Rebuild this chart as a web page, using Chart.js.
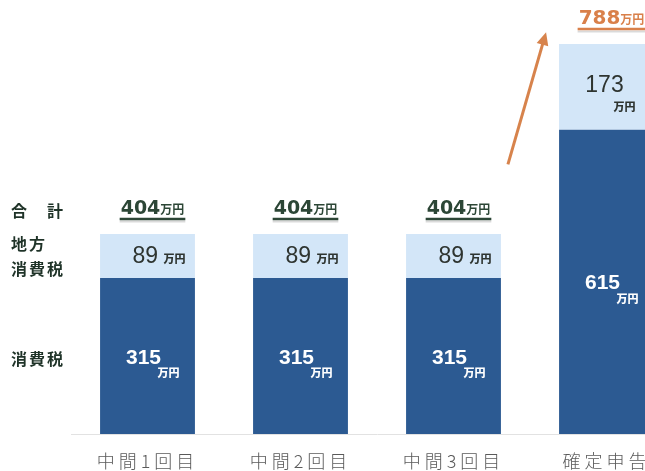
<!DOCTYPE html>
<html>
<head>
<meta charset="utf-8">
<script src="https://cdn.jsdelivr.net/npm/chart.js@4.4.0/dist/chart.umd.min.js"></script>
<style>
  html, body { margin:0; padding:0; background:#fff; overflow:hidden; width:645px; height:471px; }
  #wrap { position:absolute; left:0; top:0; width:683px; height:471px; }
  .lab { position:absolute; left:11px; font-family:"Noto Sans CJK JP","Noto Sans",sans-serif; font-weight:700; font-size:16px; color:#1f3328; letter-spacing:2px; line-height:25px; }
</style>
</head>
<body>
<div id="wrap"><canvas id="c"></canvas></div>
<div class="lab" style="top:198px;">合　計</div>
<div class="lab" style="top:231px;">地方<br>消費税</div>
<div class="lab" style="top:346px;">消費税</div>
<script>
const categories = ['中間1回目', '中間2回目', '中間3回目', '確定申告'];
const consumptionTax = [315, 315, 315, 615];
const localTax = [89, 89, 89, 173];
const totals = [404, 404, 404, 788];
const unit = '万円';

const darkBlue = '#2c5a92';
const lightBlue = '#d3e6f8';
const totalColors = ['#2c4636', '#2c4636', '#2c4636', '#d9804a'];

const labelPlugin = {
  id: 'labels',
  beforeDraw(chart) { chart.ctx.letterSpacing = '4px'; },
  beforeDatasetsDraw(chart) { chart.ctx.letterSpacing = '0px'; },
  afterDatasetsDraw(chart) {
    const ctx = chart.ctx;
    const m0 = chart.getDatasetMeta(0).data;
    const m1 = chart.getDatasetMeta(1).data;
    const y = chart.scales.y;
    ctx.save();
    ctx.letterSpacing = '0px';
    ctx.textBaseline = 'alphabetic';
    for (let i = 0; i < categories.length; i++) {
      const d = m0[i], l = m1[i];
      // dark segment label
      const dc = (d.y + d.base) / 2;
      ctx.fillStyle = '#ffffff';
      ctx.font = 'bold 21px "Liberation Sans"';
      ctx.textAlign = 'center';
      ctx.fillText(String(consumptionTax[i]), d.x - 4, dc + 7.5);
      ctx.font = '900 11px "Noto Sans CJK JP"';
      ctx.textAlign = 'left';
      ctx.fillText(unit, d.x + 10, dc + 21);
      // light segment label
      const lc = (l.y + l.base) / 2;
      ctx.fillStyle = '#2e3430';
      const segH = l.base - l.y;
      if (segH > 60) {
        ctx.font = '23px "Liberation Sans"';
        ctx.textAlign = 'center';
        ctx.fillText(String(localTax[i]), l.x - 2, lc + 5);
        ctx.font = '900 11px "Noto Sans CJK JP"';
        ctx.textAlign = 'left';
        ctx.fillText(unit, l.x + 7, lc + 24);
      } else {
        ctx.font = '23px "Liberation Sans"';
        ctx.textAlign = 'left';
        ctx.fillText(String(localTax[i]), l.x - 15, lc + 6.5);
        ctx.font = '900 11px "Noto Sans CJK JP"';
        ctx.fillText(unit, l.x + 16, lc + 7);
      }
      // totals above
      const top = y.getPixelForValue(totals[i]);
      const big = i === 3 ? 'bold 20px "DejaVu Sans"' : 'bold 19px "DejaVu Sans"';
      ctx.font = big;
      const nw = ctx.measureText(String(totals[i])).width;
      ctx.font = 'bold 12px "Noto Sans CJK JP"';
      const uw = ctx.measureText(unit).width;
      const left = l.x + 5 - (nw + uw) / 2;
      ctx.fillStyle = totalColors[i];
      ctx.textAlign = 'left';
      ctx.font = big;
      ctx.fillText(String(totals[i]), left, top - 20);
      ctx.font = 'bold 12px "Noto Sans CJK JP"';
      ctx.fillText(unit, left + nw, top - 20);
      ctx.strokeStyle = 'rgba(150,150,150,0.35)';
      ctx.lineWidth = 2;
      ctx.beginPath();
      ctx.moveTo(left - 1, top - 12.5);
      ctx.lineTo(left + nw + uw + 1, top - 12.5);
      ctx.stroke();
      ctx.strokeStyle = totalColors[i];
      ctx.lineWidth = 2.5;
      ctx.beginPath();
      ctx.moveTo(left - 1, top - 15);
      ctx.lineTo(left + nw + uw + 1, top - 15);
      ctx.stroke();
    }
    // arrow from 3rd bar to 4th bar
    const b3 = m1[2], b4 = m1[3];
    const x1 = b3.x + b3.width / 2 + 7, y1 = y.getPixelForValue(545);
    const x2 = b4.x - b4.width / 2 - 13, y2 = y.getPixelForValue(812);
    const ang = Math.atan2(y2 - y1, x2 - x1);
    ctx.strokeStyle = '#d7834c';
    ctx.fillStyle = '#d7834c';
    ctx.lineWidth = 3;
    ctx.beginPath();
    ctx.moveTo(x1, y1);
    ctx.lineTo(x2 - 8 * Math.cos(ang), y2 - 8 * Math.sin(ang));
    ctx.stroke();
    ctx.beginPath();
    ctx.moveTo(x2, y2);
    ctx.lineTo(x2 - 13 * Math.cos(ang) + 6 * Math.sin(ang), y2 - 13 * Math.sin(ang) - 6 * Math.cos(ang));
    ctx.lineTo(x2 - 13 * Math.cos(ang) - 6 * Math.sin(ang), y2 - 13 * Math.sin(ang) + 6 * Math.cos(ang));
    ctx.closePath();
    ctx.fill();
    ctx.restore();
  }
};

new Chart(document.getElementById('c'), {
  type: 'bar',
  data: {
    labels: categories,
    datasets: [
      { label: '消費税', data: consumptionTax, backgroundColor: darkBlue, barPercentage: 0.62, categoryPercentage: 1.0 },
      { label: '地方消費税', data: localTax, backgroundColor: lightBlue, barPercentage: 0.62, categoryPercentage: 1.0 }
    ]
  },
  options: {
    responsive: true,
    maintainAspectRatio: false,
    animation: false,
    layout: { padding: { left: 71, right: 0, top: 0, bottom: 0 } },
    plugins: { legend: { display: false }, tooltip: { enabled: false } },
    scales: {
      x: {
        stacked: true,
        grid: { display: false, drawTicks: false },
        border: { display: true, color: '#e2e2e2', width: 1 },
        ticks: { color: '#5a5a5a', font: { family: '"Noto Sans CJK JP"', size: 18, weight: 300 }, padding: 16 },
        afterFit(scale) { scale.height = 37; }
      },
      y: { stacked: true, display: false, min: 0, max: 877 }
    }
  },
  plugins: [labelPlugin]
});
</script>
</body>
</html>
